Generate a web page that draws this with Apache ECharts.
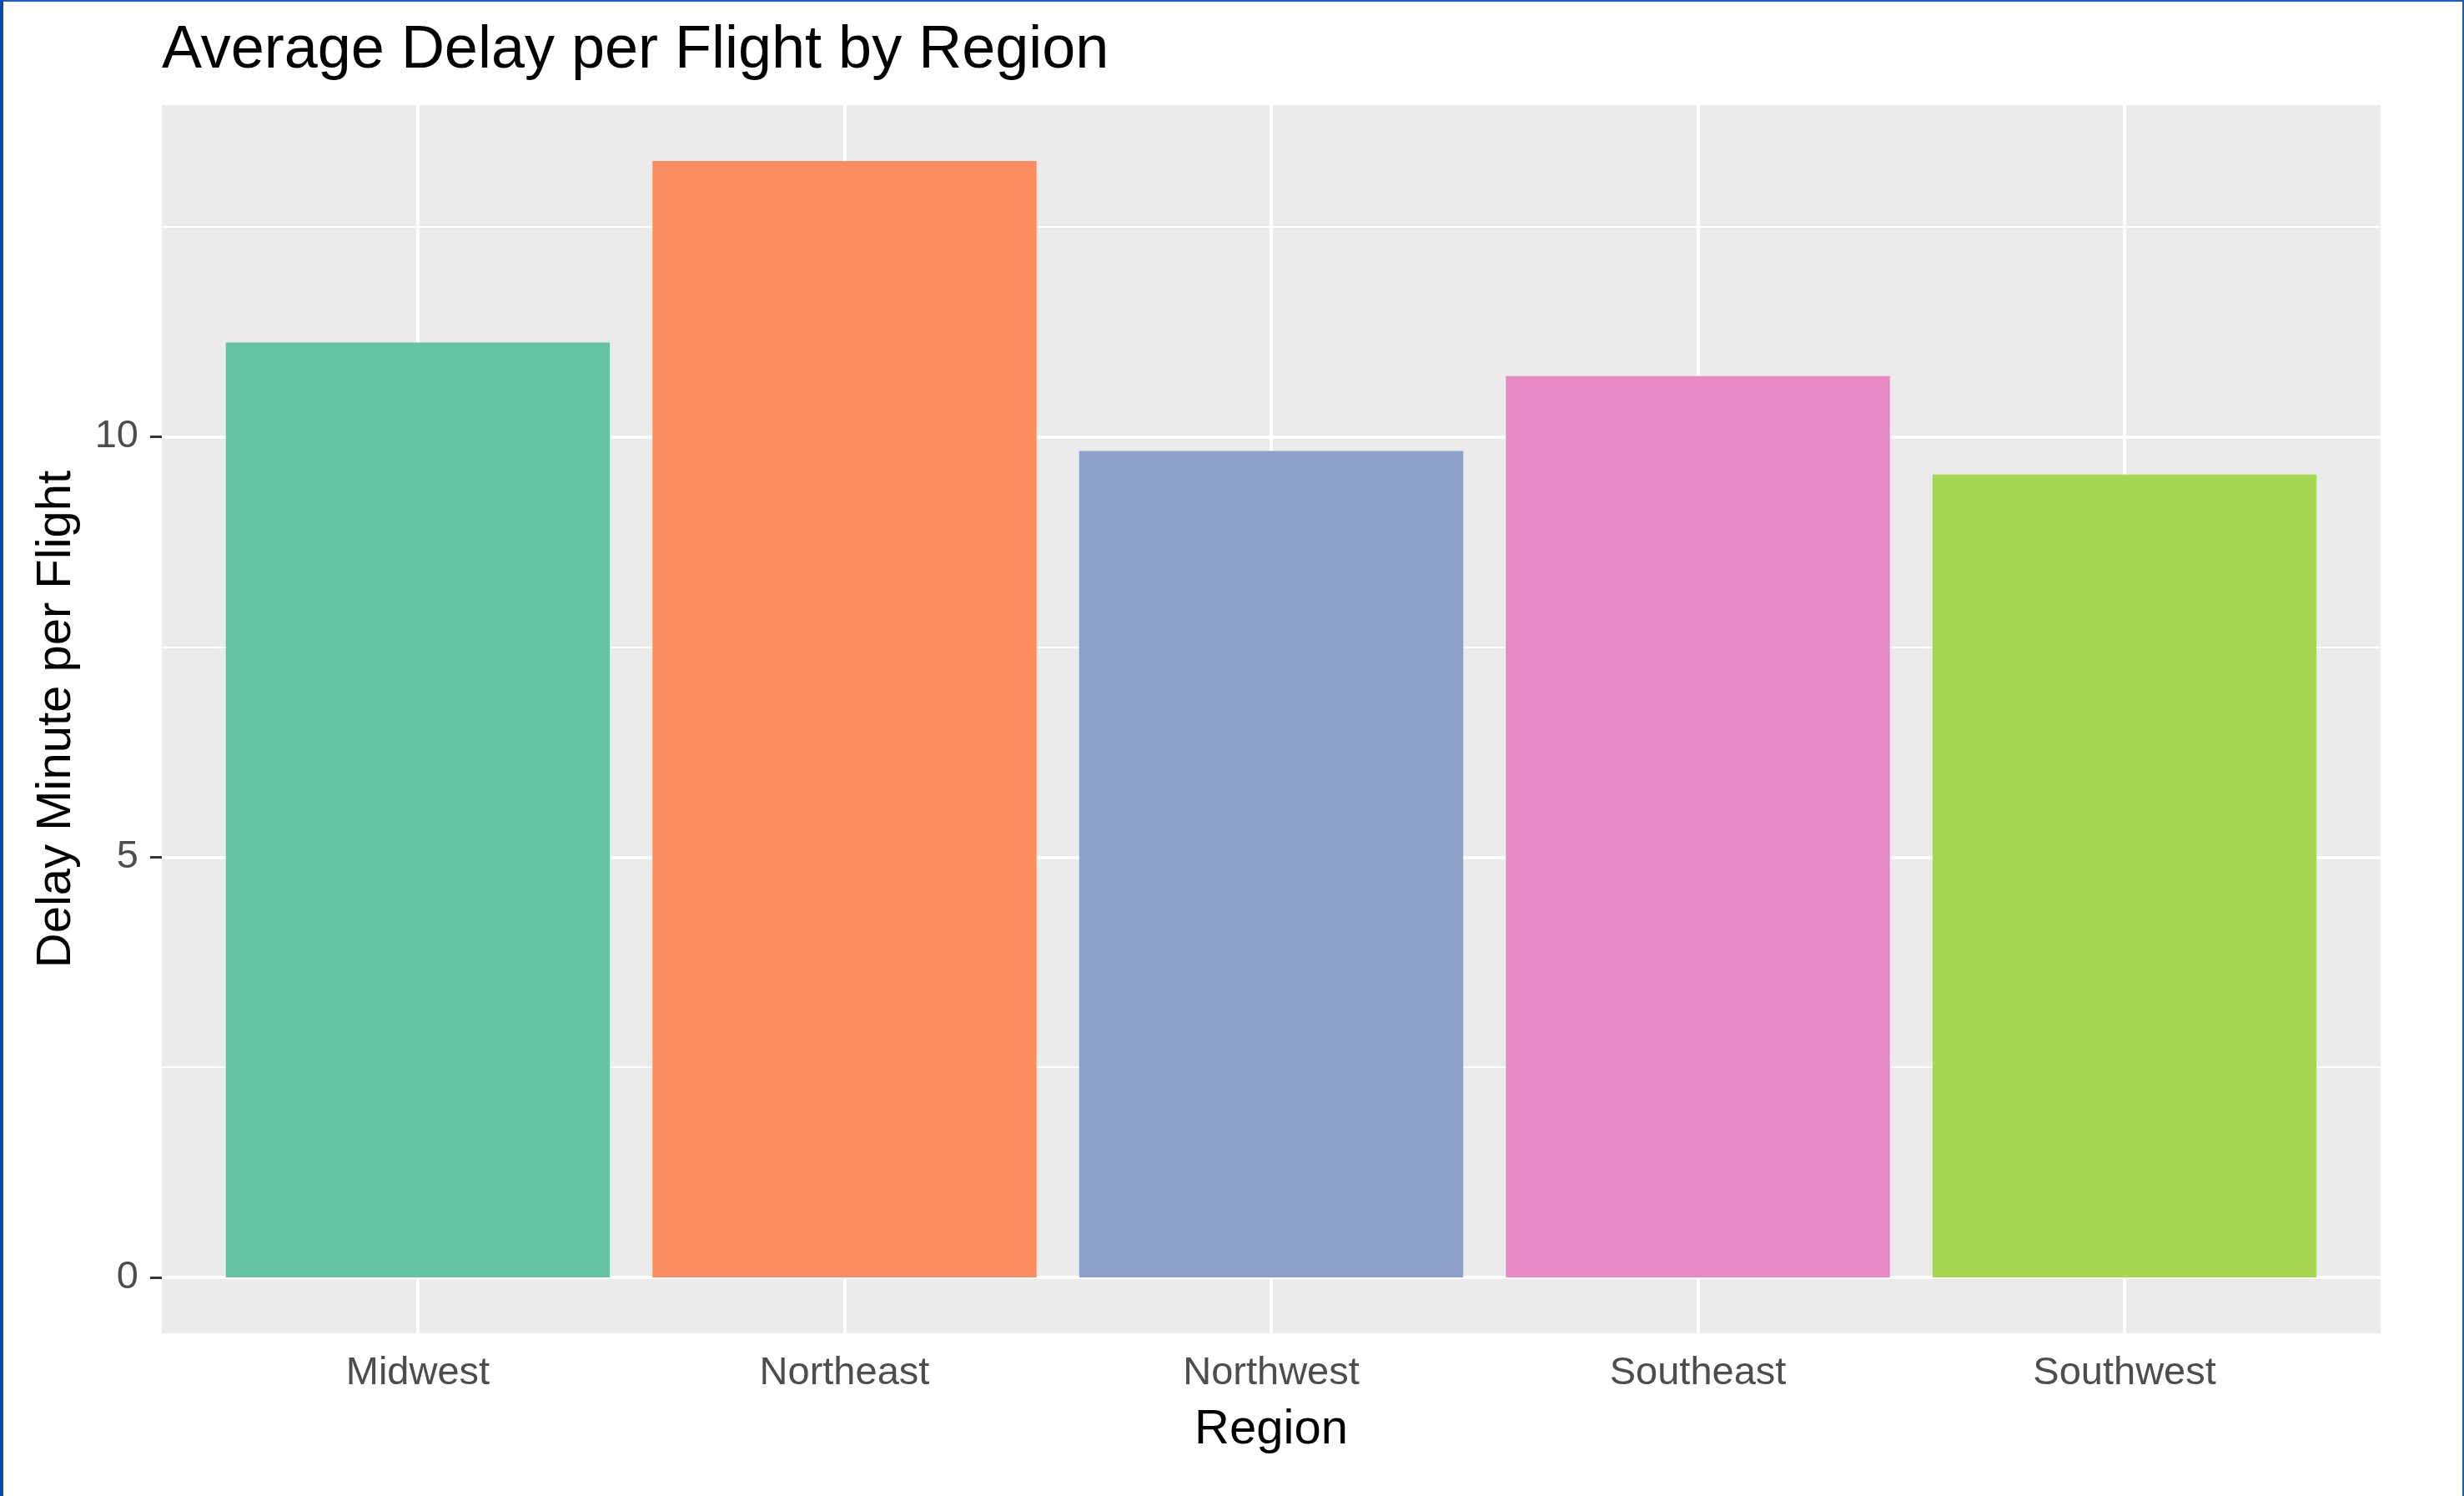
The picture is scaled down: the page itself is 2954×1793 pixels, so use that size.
<!DOCTYPE html>
<html lang="en">
<head>
    <meta charset="UTF-8">
    <title>Average Delay per Flight by Region</title>
    <script src="https://cdn.jsdelivr.net/npm/echarts@6/dist/echarts.min.js"></script>
    <style>
        html, body { margin: 0; padding: 0; background: #fff; }
        #main { position: absolute; left: 0; top: 0; width: 2954px; height: 1793px; }
        #frame {
            position: absolute; left: 0; top: 0; width: 2954px; height: 1793px;
            box-sizing: border-box; pointer-events: none;
            border-left: 4px solid #0b4bb0; border-top: 2px solid #1a5cc0; border-right: 2px solid #1a5cc0;
        }
    </style>
</head>
<body>
<div id="main"></div>
<div id="frame"></div>

<script>
    // data
    var regions = ['Midwest', 'Northeast', 'Northwest', 'Southeast', 'Southwest'];
    var delays = [11.12, 13.28, 9.83, 10.72, 9.55];
    var barColors = ['#66C2A5', '#FC8D62', '#8DA0CB', '#E78AC3', '#A6D854'];
    var yTicks = [0, 5, 10];

    var font = 'Liberation Sans, Arial, Helvetica, sans-serif';

    // panel box (grey area)
    var panelLeft = 194, panelTop = 126, panelW = 2660, panelH = 1472;
    // ggplot-like expansion: 0.6 units each side on the discrete axis, 5% on the continuous one
    var unit = panelW / (regions.length - 1 + 1.2);
    var pad = 0.1 * unit;
    var maxDelay = Math.max.apply(null, delays);
    var yMin = -maxDelay * 0.05, yMax = maxDelay * 1.05;

    var chart = echarts.init(document.getElementById('main'));

    var option = {
        animation: false,
        backgroundColor: '#fff',
        textStyle: { fontFamily: font },
        title: {
            text: 'Average Delay per Flight by Region',
            left: panelLeft,
            top: 25,
            padding: 0,
            textStyle: { fontSize: 72, fontWeight: 'normal', color: '#000', fontFamily: font }
        },
        grid: [
            { left: panelLeft, top: panelTop, width: panelW, height: panelH, show: true, backgroundColor: '#EBEBEB', borderWidth: 0, z: -1 },
            { left: panelLeft + pad, top: panelTop, width: panelW - 2 * pad, height: panelH }
        ],
        xAxis: [
            { gridIndex: 0, type: 'value', min: 0, max: 1, show: false },
            {
                gridIndex: 1,
                type: 'category',
                data: regions,
                axisLine: { show: false },
                axisTick: { alignWithLabel: true, length: 14, lineStyle: { color: '#333', width: 3 } },
                axisLabel: { interval: 0, margin: 25, fontSize: 47, color: '#4D4D4D', fontFamily: font },
                splitLine: { show: true, alignWithLabel: true, lineStyle: { color: '#fff', width: 4 } },
                name: 'Region',
                nameLocation: 'middle',
                nameGap: 87,
                nameTextStyle: { fontSize: 58, color: '#000', fontFamily: font }
            }
        ],
        yAxis: [
            {
                gridIndex: 0,
                type: 'value',
                min: yMin,
                max: yMax,
                splitNumber: 3,
                axisLine: { show: false },
                axisTick: { customValues: yTicks, length: 14, lineStyle: { color: '#333', width: 3 } },
                axisLabel: { customValues: yTicks, margin: 28, fontSize: 47, color: '#4D4D4D', fontFamily: font },
                splitLine: { show: true, lineStyle: { color: '#fff', width: 4 } },
                minorTick: { show: false, splitNumber: 2 },
                minorSplitLine: { show: true, lineStyle: { color: '#fff', width: 2 } },
                name: 'Delay Minute per Flight',
                nameLocation: 'middle',
                nameGap: 97,
                nameTextStyle: { fontSize: 58, color: '#000', fontFamily: font }
            },
            { gridIndex: 1, type: 'value', min: yMin, max: yMax, show: false }
        ],
        series: [{
            type: 'bar',
            xAxisIndex: 1,
            yAxisIndex: 1,
            barWidth: '90%',
            data: delays.map(function (v, i) {
                return { value: v, itemStyle: { color: barColors[i] } };
            })
        }]
    };
    chart.setOption(option);
</script>
</body>
</html>
